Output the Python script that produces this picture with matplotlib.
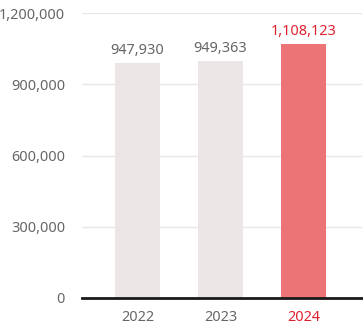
import matplotlib
matplotlib.use("Agg")
import matplotlib.pyplot as plt
from matplotlib.ticker import FuncFormatter

years = ["2022", "2023", "2024"]
label_values = [947930, 949363, 1108123]
bar_heights = [989000, 999000, 1072000]
yticks = [0, 300000, 600000, 900000, 1200000]

plt.rcParams['font.family'] = ['Noto Sans', 'DejaVu Sans']
fs = 10.4

gray_txt = "#666666"
red_txt = "#e0202e"
bar_colors = ["#ebe5e5", "#ebe5e5", "#ec7477"]
txt_colors = [gray_txt, gray_txt, red_txt]

fig = plt.figure(figsize=(3.63, 3.35), dpi=100)
ax = fig.add_axes([82/363, (335-297.7)/335, (362-82)/363, (297.7-13.3)/335])

x = list(range(len(years)))
ax.bar(x, bar_heights, width=0.54, color=bar_colors, zorder=2)
ax.set_xlim(-0.67, 2.705)
ax.set_ylim(0, 1200000)
ax.set_yticks(yticks)
ax.yaxis.set_major_formatter(FuncFormatter(lambda v, p: f"{int(v):,}"))
ax.grid(axis='y', color='#e8e8e8', linewidth=1, zorder=0)
ax.set_xticks(x)
ax.set_xticklabels(years)
ax.tick_params(axis='x', length=0, pad=9.2, labelsize=fs, colors=gray_txt)
ax.tick_params(axis='y', length=0, pad=12.2, labelsize=fs, colors=gray_txt)
for lbl, c in zip(ax.get_xticklabels(), txt_colors):
    lbl.set_color(c)

for s in ['top', 'right', 'left']:
    ax.spines[s].set_visible(False)
ax.spines['bottom'].set_linewidth(2)
ax.spines['bottom'].set_color('#1a1a1a')
ax.spines['bottom'].set_zorder(3)

for xi, h, v, c in zip(x, bar_heights, label_values, txt_colors):
    ax.annotate(f"{v:,}", (xi, h), xytext=(0, 6.5), textcoords='offset points',
                ha='center', va='baseline', color=c, fontsize=fs)

fig.savefig("out.png", dpi=100)
